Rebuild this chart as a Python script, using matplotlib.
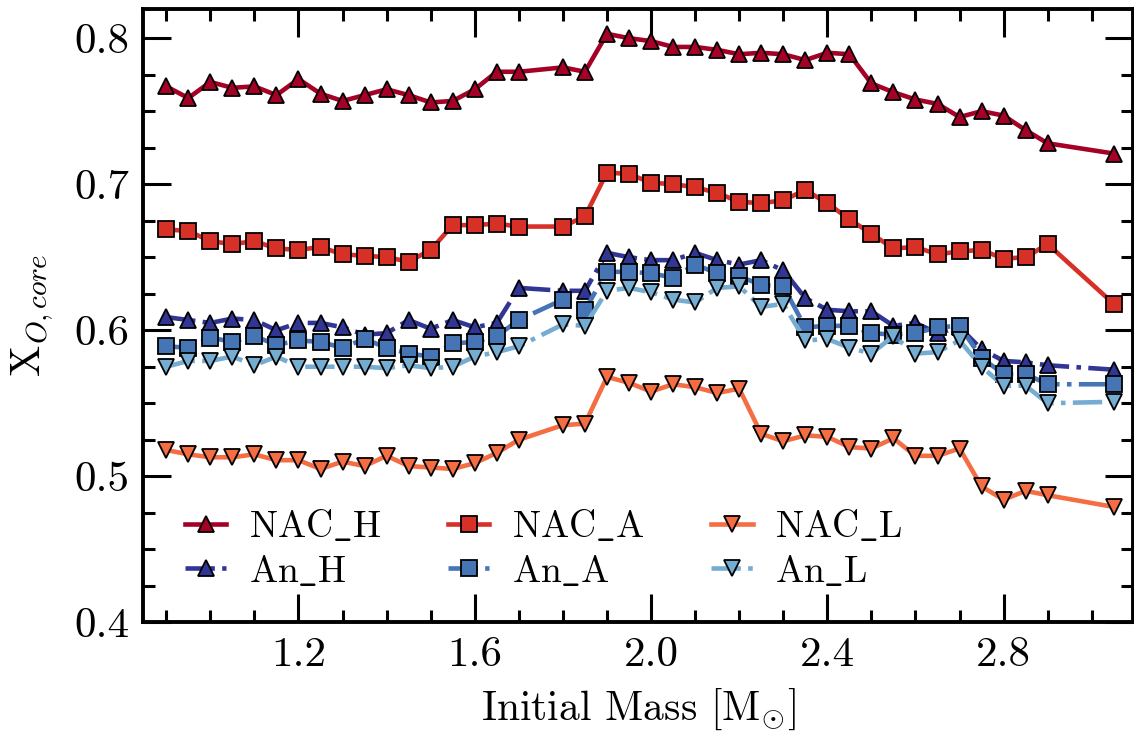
import matplotlib
matplotlib.use("Agg")
import matplotlib.pyplot as plt

# initial masses of the model grid (no 1.75 model)
mass = [0.90, 0.95, 1.00, 1.05, 1.10, 1.15, 1.20, 1.25, 1.30, 1.35, 1.40,
        1.45, 1.50, 1.55, 1.60, 1.65, 1.70, 1.80, 1.85, 1.90, 1.95, 2.00,
        2.05, 2.10, 2.15, 2.20, 2.25, 2.30, 2.35, 2.40, 2.45, 2.50, 2.55,
        2.60, 2.65, 2.70, 2.75, 2.80, 2.85, 2.90, 3.05]

nac_h = [0.767, 0.759, 0.770, 0.766, 0.767, 0.761, 0.772, 0.762, 0.757, 0.761, 0.765,
         0.761, 0.756, 0.757, 0.765, 0.777, 0.777, 0.780, 0.777, 0.803, 0.800, 0.798,
         0.794, 0.794, 0.792, 0.789, 0.790, 0.789, 0.785, 0.790, 0.789, 0.769, 0.763,
         0.758, 0.755, 0.746, 0.750, 0.747, 0.737, 0.728, 0.721]

nac_a = [0.669, 0.668, 0.661, 0.659, 0.661, 0.656, 0.655, 0.657, 0.652, 0.651, 0.650,
         0.647, 0.655, 0.672, 0.672, 0.673, 0.671, 0.671, 0.678, 0.708, 0.707, 0.701,
         0.700, 0.698, 0.694, 0.688, 0.687, 0.689, 0.696, 0.687, 0.676, 0.666, 0.656,
         0.657, 0.652, 0.654, 0.655, 0.649, 0.650, 0.659, 0.618]

nac_l = [0.518, 0.515, 0.513, 0.513, 0.515, 0.511, 0.511, 0.505, 0.510, 0.507, 0.514,
         0.507, 0.506, 0.505, 0.509, 0.516, 0.525, 0.535, 0.536, 0.568, 0.564, 0.558,
         0.563, 0.561, 0.557, 0.560, 0.529, 0.524, 0.528, 0.527, 0.520, 0.519, 0.526,
         0.514, 0.514, 0.519, 0.493, 0.484, 0.490, 0.487, 0.479]

an_h = [0.609, 0.607, 0.605, 0.608, 0.607, 0.600, 0.605, 0.605, 0.602, 0.597, 0.598,
        0.607, 0.601, 0.607, 0.602, 0.605, 0.629, 0.627, 0.627, 0.653, 0.650, 0.648,
        0.648, 0.653, 0.648, 0.645, 0.648, 0.641, 0.622, 0.614, 0.613, 0.613, 0.603,
        0.605, 0.598, 0.602, 0.587, 0.579, 0.578, 0.576, 0.573]

an_a = [0.589, 0.588, 0.595, 0.592, 0.596, 0.590, 0.593, 0.592, 0.588, 0.594, 0.588,
        0.584, 0.582, 0.591, 0.592, 0.596, 0.607, 0.621, 0.614, 0.640, 0.640, 0.639,
        0.636, 0.645, 0.639, 0.637, 0.631, 0.630, 0.602, 0.603, 0.603, 0.598, 0.597,
        0.598, 0.602, 0.603, 0.581, 0.570, 0.570, 0.563, 0.563]

an_l = [0.575, 0.579, 0.579, 0.582, 0.576, 0.582, 0.575, 0.575, 0.575, 0.575, 0.574,
        0.576, 0.574, 0.575, 0.582, 0.585, 0.589, 0.604, 0.603, 0.627, 0.629, 0.626,
        0.621, 0.619, 0.629, 0.630, 0.616, 0.618, 0.593, 0.594, 0.588, 0.584, 0.596,
        0.584, 0.585, 0.593, 0.575, 0.562, 0.562, 0.550, 0.551]

plt.rcParams['font.family'] = 'serif'
plt.rcParams['font.serif'] = ['cmr10']
plt.rcParams['mathtext.fontset'] = 'cm'
plt.rcParams['axes.formatter.use_mathtext'] = True

fig = plt.figure(figsize=(11.34, 7.36), dpi=100)
ax = fig.add_axes([0.1264, 0.1545, 0.8725, 0.8333])

common = dict(lw=3.3, ms=11, mec='black', mew=1.3)
l1, = ax.plot(mass, nac_h, '-', marker='^', color='#a50026', label=r'$\mathrm{NAC\_H}$', **common)
l2, = ax.plot(mass, nac_a, '-', marker='s', color='#d73027', label=r'$\mathrm{NAC\_A}$', **common)
l3, = ax.plot(mass, nac_l, '-', marker='v', color='#f46d43', label=r'$\mathrm{NAC\_L}$', **common)
l4, = ax.plot(mass, an_h, '-.', marker='^', color='#313695', label=r'$\mathrm{An\_H}$', **common)
l5, = ax.plot(mass, an_a, '-.', marker='s', color='#4575b4', label=r'$\mathrm{An\_A}$', **common)
l6, = ax.plot(mass, an_l, '-.', marker='v', color='#74add1', label=r'$\mathrm{An\_L}$', **common)

ax.set_xlim(0.848, 3.093)
ax.set_ylim(0.4, 0.82)
ax.set_xticks([1.2, 1.6, 2.0, 2.4, 2.8])
ax.set_xticks([0.9, 1.0, 1.1, 1.3, 1.4, 1.5, 1.7, 1.8, 1.9, 2.1, 2.2, 2.3,
               2.5, 2.6, 2.7, 2.9, 3.0], minor=True)
ax.set_yticks([0.4, 0.5, 0.6, 0.7, 0.8])
ax.set_yticks([0.425, 0.45, 0.475, 0.525, 0.55, 0.575, 0.625, 0.65, 0.675,
               0.725, 0.75, 0.775], minor=True)
ax.set_xticklabels(['1.2', '1.6', '2.0', '2.4', '2.8'])
ax.set_yticklabels(['0.4', '0.5', '0.6', '0.7', '0.8'])

ax.tick_params(which='both', direction='in', top=True, right=True, width=2.2, labelsize=31)
ax.tick_params(which='major', length=20, pad=10)
ax.tick_params(which='minor', length=8.5)
for s in ax.spines.values():
    s.set_linewidth(2.8)

ax.set_xlabel(r'Initial Mass [$\mathrm{M}_{\odot}$]', fontsize=30, labelpad=9)
ax.set_ylabel(r'$\mathrm{X}_{O,core}$', fontsize=30, labelpad=14)

ax.legend(handles=[l1, l4, l2, l5, l3, l6], ncol=3, loc='lower left',
          bbox_to_anchor=(0.008, 0.0), frameon=False, fontsize=27,
          handlelength=1.1, handletextpad=0.6, columnspacing=1.8,
          labelspacing=0.25)

fig.savefig('out.png', dpi=100)
